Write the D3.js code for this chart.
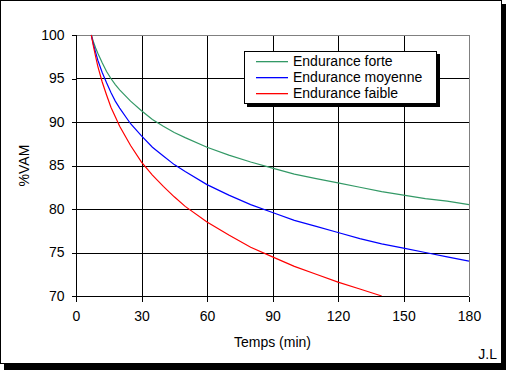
<!DOCTYPE html>
<html>
<head>
<meta charset="utf-8">
<script src="https://cdn.jsdelivr.net/npm/d3@7"></script>
<style>
  body { margin: 0; background: #fff; }
  svg text { font-family: "Liberation Sans", Arial, sans-serif; font-size: 14px; fill: #000; }
</style>
</head>
<body>
<svg></svg>
<script>
const width = 506;
const height = 370;

// temps (min)
const temps = [7, 8, 9, 10, 12, 14, 16, 18, 20, 25, 30, 35, 40, 45, 50, 60, 70, 80, 90, 100, 110, 120, 130, 140, 150, 160, 170, 180];

// %VAM
const forte = [100, 99.2, 98.5, 97.9, 96.8, 95.8, 95.0, 94.3, 93.7, 92.4, 91.3, 90.3, 89.5, 88.8, 88.2, 87.1, 86.2, 85.4, 84.7, 84.0, 83.5, 83.0, 82.5, 82.0, 81.6, 81.2, 80.9, 80.5];
const moyenne = [100, 98.9, 98.0, 97.1, 95.7, 94.5, 93.4, 92.4, 91.6, 89.8, 88.4, 87.1, 86.1, 85.1, 84.3, 82.8, 81.6, 80.5, 79.6, 78.7, 78.0, 77.3, 76.6, 76.0, 75.5, 75.0, 74.5, 74.0];
const faible = [100, 98.7, 97.5, 96.4, 94.6, 93.1, 91.7, 90.6, 89.5, 87.3, 85.4, 83.9, 82.6, 81.4, 80.3, 78.5, 77.0, 75.6, 74.5, 73.4, 72.5, 71.6, 70.8, 70.0];

const seriesNames = ["Endurance forte", "Endurance moyenne", "Endurance faible"];
const seriesColors = ["#339966", "#0000ff", "#ff0000"];
const xTicks = [0, 30, 60, 90, 120, 150, 180];
const yTicks = [70, 75, 80, 85, 90, 95, 100];

const series = [forte, moyenne, faible].map((vals, i) => ({
    name: seriesNames[i],
    color: seriesColors[i],
    values: vals.map((v, j) => ({ t: temps[j], v: v }))
}));

const svg = d3.select("svg")
    .attr("width", width)
    .attr("height", height);

// frame with shadow
svg.append("rect")
    .attr("x", 4).attr("y", 4)
    .attr("width", 502).attr("height", 366)
    .attr("fill", "#000");
svg.append("rect")
    .attr("x", 0.5).attr("y", 0.5)
    .attr("width", 501).attr("height", 363)
    .attr("fill", "#fff")
    .attr("stroke", "#000");

const x = d3.scaleLinear().domain([0, 180]).range([76, 469]);
const y = d3.scaleLinear().domain([70, 100]).range([296, 35]);

// grid
const grid = svg.append("g").attr("shape-rendering", "crispEdges");
grid.selectAll(".hg")
    .data(yTicks.filter(d => d > 70 && d < 100))
    .enter().append("line")
    .attr("x1", x(0)).attr("x2", x(180))
    .attr("y1", d => Math.round(y(d)) + 0.5)
    .attr("y2", d => Math.round(y(d)) + 0.5)
    .attr("stroke", "#000");
grid.selectAll(".vg")
    .data(xTicks.filter(d => d > 0 && d < 180))
    .enter().append("line")
    .attr("y1", y(70)).attr("y2", y(100))
    .attr("x1", d => Math.round(x(d)) + 0.5)
    .attr("x2", d => Math.round(x(d)) + 0.5)
    .attr("stroke", "#000");

// plot border top / right in grey
grid.append("line")
    .attr("x1", x(0)).attr("x2", x(180) + 0.5)
    .attr("y1", Math.round(y(100)) + 0.5).attr("y2", Math.round(y(100)) + 0.5)
    .attr("stroke", "#808080");
grid.append("line")
    .attr("x1", Math.round(x(180)) + 0.5).attr("x2", Math.round(x(180)) + 0.5)
    .attr("y1", y(100)).attr("y2", y(70))
    .attr("stroke", "#808080");

// curves
const line = d3.line()
    .x(d => x(d.t))
    .y(d => y(d.v));

svg.append("g").selectAll("path")
    .data(series)
    .enter().append("path")
    .attr("d", d => line(d.values))
    .attr("fill", "none")
    .attr("stroke", d => d.color)
    .attr("stroke-width", 1.2);

// axes
const xAxis = svg.append("g")
    .attr("transform", `translate(0,${Math.round(y(70)) + 0.5})`)
    .call(d3.axisBottom(x).tickValues(xTicks).tickSize(5).tickPadding(10));
const yAxis = svg.append("g")
    .attr("transform", `translate(${Math.round(x(0)) + 0.5},0)`)
    .call(d3.axisLeft(y).tickValues(yTicks).tickSize(5).tickPadding(7));

[xAxis, yAxis].forEach(a => {
    a.attr("shape-rendering", "crispEdges");
    a.select(".domain").attr("stroke", "#000");
    a.selectAll(".tick line").attr("stroke", "#000");
    a.selectAll("text").style("font-size", "14px").attr("fill", "#000");
});
xAxis.select(".domain").attr("d", `M${x(0)},0H${x(180)}`);
yAxis.select(".domain").attr("d", `M0,${y(70)}V${y(100)}`);

// axis titles
svg.append("text")
    .attr("x", (x(0) + x(180)) / 2)
    .attr("y", 347)
    .attr("text-anchor", "middle")
    .text("Temps (min)");

svg.append("text")
    .attr("transform", `translate(29,${(y(70) + y(100)) / 2}) rotate(-90)`)
    .attr("text-anchor", "middle")
    .text("%VAM");

svg.append("text")
    .attr("x", 497)
    .attr("y", 359)
    .attr("text-anchor", "end")
    .text("J.L");

// legend
const legend = svg.append("g");
legend.append("rect")
    .attr("x", 247).attr("y", 54)
    .attr("width", 193).attr("height", 53)
    .attr("fill", "#000");
legend.append("rect")
    .attr("x", 244.5).attr("y", 51.5)
    .attr("width", 192).attr("height", 52)
    .attr("fill", "#fff")
    .attr("stroke", "#000");

series.forEach((s, i) => {
    const row = 61 + i * 16;
    legend.append("rect")
        .attr("x", 256).attr("y", row)
        .attr("width", 32).attr("height", 1.3)
        .attr("fill", seriesColors[i]);
    legend.append("text")
        .attr("x", 293)
        .attr("y", row + 5)
        .text(s.name);
});
</script>
</body>
</html>
